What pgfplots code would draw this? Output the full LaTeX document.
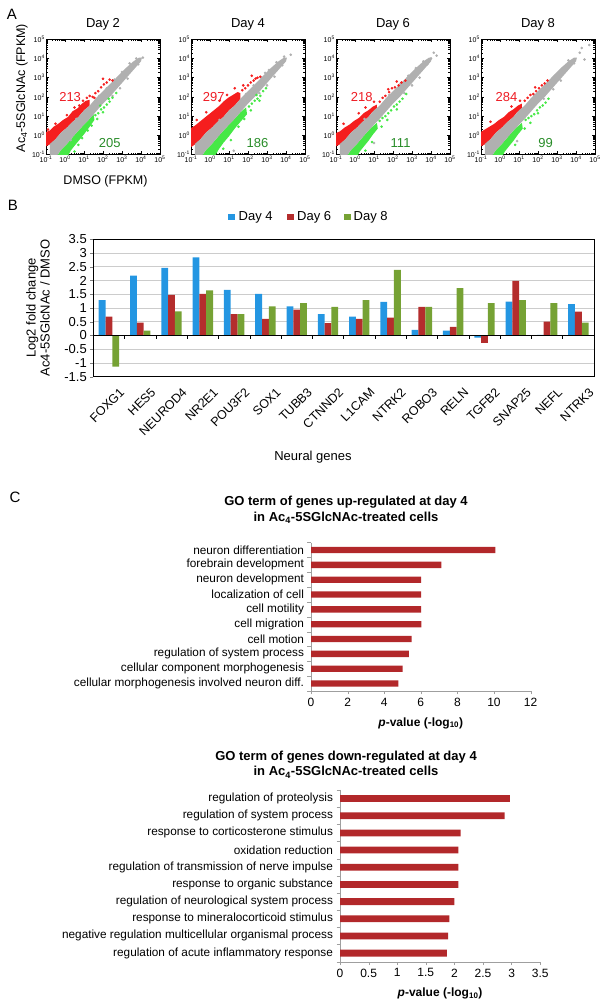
\documentclass[border=0pt]{standalone}
\usepackage{fontspec}
\setmainfont{Liberation Sans}
\usepackage{pgfplots}
\usepackage{pgfplotstable}
\pgfplotsset{compat=1.18}

\definecolor{ptgrey}{RGB}{176,176,176}
\definecolor{ptred}{RGB}{245,30,30}
\definecolor{ptgreen}{RGB}{70,232,70}
\definecolor{numred}{RGB}{238,28,36}
\definecolor{numgreen}{RGB}{40,140,40}
\definecolor{cblue}{RGB}{36,150,226}
\definecolor{cred}{RGB}{180,45,45}
\definecolor{cgreen}{RGB}{118,162,52}
\definecolor{cbar}{RGB}{178,40,42}

\newcommand\fs[2]{\fontsize{#1}{#2}\selectfont}

\pgfplotsset{
  every axis/.append style={/pgf/number format/assume math mode=true},
  scat/.style={
    scale only axis, width=114pt, height=115.2pt,
    xmin=-1, xmax=5, ymin=-1, ymax=5,
    xtick={-1,0,1,2,3,4,5}, ytick={-1,0,1,2,3,4,5},
    xticklabels={10\textsuperscript{-1},10\textsuperscript{0},10\textsuperscript{1},10\textsuperscript{2},10\textsuperscript{3},10\textsuperscript{4},10\textsuperscript{5}},
    yticklabels={10\textsuperscript{-1},10\textsuperscript{0},10\textsuperscript{1},10\textsuperscript{2},10\textsuperscript{3},10\textsuperscript{4},10\textsuperscript{5}},
    minor xtick={-0.699,-0.523,-0.398,-0.301,-0.222,-0.155,-0.097,-0.046,
      0.301,0.477,0.602,0.699,0.778,0.845,0.903,0.954,
      1.301,1.477,1.602,1.699,1.778,1.845,1.903,1.954,
      2.301,2.477,2.602,2.699,2.778,2.845,2.903,2.954,
      3.301,3.477,3.602,3.699,3.778,3.845,3.903,3.954,
      4.301,4.477,4.602,4.699,4.778,4.845,4.903,4.954},
    minor ytick={-0.699,-0.523,-0.398,-0.301,-0.222,-0.155,-0.097,-0.046,
      0.301,0.477,0.602,0.699,0.778,0.845,0.903,0.954,
      1.301,1.477,1.602,1.699,1.778,1.845,1.903,1.954,
      2.301,2.477,2.602,2.699,2.778,2.845,2.903,2.954,
      3.301,3.477,3.602,3.699,3.778,3.845,3.903,3.954,
      4.301,4.477,4.602,4.699,4.778,4.845,4.903,4.954},
    tick align=inside, major tick length=3pt, minor tick length=1.6pt,
    tick style={black, line width=0.4pt},
    axis line style={line width=0.6pt},
    tick label style={font=\fs{7}{8}, inner sep=1pt},
    title style={font=\fs{13}{15}},
  },
  band/.style={draw=none, mark=none},
  dots/.style={only marks, mark=*, mark size=1.1pt},
  gostyle/.style={
    scale only axis, xbar, y dir=reverse,
    ymin=-0.5, ymax=9.5, ytick={0,1,2,3,4,5,6,7,8,9}, xmin=0,
    axis x line*=bottom, axis y line*=left,
    axis line style={draw=gray!75, -},
    tick align=outside,
    major y tick style={draw=none},
    minor ytick={-0.5,0.5,1.5,2.5,3.5,4.5,5.5,6.5,7.5,8.5,9.5},
    minor y tick style={gray!75},
    major x tick style={gray!75},
    major tick length=3.5pt, minor tick length=3.5pt,
    yticklabel style={font=\fs{11.8}{13}},
    xticklabel style={font=\fs{12}{14}},
    xlabel style={font=\bfseries\fs{12}{14}, at={(axis description cs:0.5,0)}, anchor=center, yshift=-32pt},
  },
}

% grey main band (log10 units), shared by all four days
\pgfplotstableread{
x y
-0.8 -0.45
-0.5 -0.2
-0.2 0.15
0.1 0.4
0.4 0.7
0.7 0.95
1.0 1.3
1.3 1.55
1.6 1.9
2.0 2.3
2.4 2.7
2.8 3.1
3.2 3.5
3.6 3.85
3.9 4.05
4.05 4.05
4.0 3.85
3.6 3.4
3.2 2.95
2.8 2.5
2.4 2.05
2.0 1.65
1.6 1.2
1.2 0.75
0.8 0.35
0.4 -0.1
0.1 -0.45
-0.2 -0.75
-0.45 -1.1
-0.8 -1.1
}\greyband

\pgfplotstableread{
x y
-1.05 0.15
-0.8 0.25
-0.6 0.45
-0.35 0.6
-0.1 0.8
0.15 0.95
0.4 1.25
0.65 1.4
0.9 1.65
1.1 1.8
1.3 1.85
1.3 1.55
1.0 1.3
0.7 0.95
0.4 0.7
0.1 0.4
-0.2 0.15
-0.5 -0.2
-0.75 -0.45
-1.05 -0.6
}\redA

\pgfplotstableread{
x y
-0.45 -1.1
-0.2 -0.75
0.1 -0.45
0.4 -0.1
0.8 0.35
1.2 0.75
1.5 1.1
1.55 0.8
1.3 0.45
1.0 0.05
0.75 -0.25
0.5 -0.55
0.3 -0.8
0.15 -1.1
}\greenA

\pgfplotstableread{
x y
-1.05 0.35
-0.8 0.5
-0.55 0.7
-0.3 0.9
-0.05 1.1
0.2 1.3
0.45 1.5
0.7 1.75
0.95 1.95
1.2 2.1
1.45 2.25
1.6 2.2
1.6 1.9
1.3 1.55
1.0 1.3
0.7 0.95
0.4 0.7
0.1 0.4
-0.2 0.15
-0.5 -0.2
-0.75 -0.45
-1.05 -0.65
}\redB

\pgfplotstableread{
x y
-0.45 -1.1
-0.2 -0.75
0.1 -0.45
0.4 -0.1
0.8 0.35
1.2 0.75
1.6 1.2
1.9 1.45
1.95 1.1
1.6 0.7
1.3 0.35
1.0 -0.05
0.7 -0.4
0.45 -0.75
0.25 -1.1
}\greenB

\pgfplotstableread{
x y
-1.05 0.1
-0.8 0.2
-0.55 0.4
-0.3 0.55
-0.05 0.75
0.2 0.9
0.45 1.15
0.7 1.3
0.95 1.5
1.15 1.6
1.15 1.4
0.9 1.2
0.7 0.95
0.4 0.7
0.1 0.4
-0.2 0.15
-0.5 -0.2
-0.75 -0.45
-1.05 -0.6
}\redC

\pgfplotstableread{
x y
-0.45 -1.1
-0.2 -0.75
0.1 -0.45
0.4 -0.1
0.8 0.35
1.15 0.65
1.2 0.35
0.95 0.05
0.7 -0.3
0.45 -0.6
0.25 -0.85
0.12 -1.1
}\greenC

\pgfplotstableread{
x y
-1.05 0.15
-0.8 0.3
-0.55 0.45
-0.3 0.6
-0.05 0.8
0.2 0.95
0.45 1.2
0.7 1.35
0.95 1.55
1.15 1.65
1.15 1.4
0.9 1.2
0.7 0.95
0.4 0.7
0.1 0.4
-0.2 0.15
-0.5 -0.2
-0.75 -0.45
-1.05 -0.6
}\redD

\begin{document}
\begin{tikzpicture}
\useasboundingbox (0pt,0pt) rectangle (606pt,1007pt);

% ---------------- panel A ----------------
\node[font=\fs{15}{17}] at (12pt,993pt) {A};
\node[rotate=90, font=\fs{12.5}{15}] at (22pt,919pt) {Ac\textsubscript{4}-5SGlcNAc (FPKM)};
\node[font=\fs{12.5}{15}] at (105.5pt,825.3pt) {DMSO (FPKM)};

\begin{axis}[scat, at={(46pt,852.5pt)}, anchor=south west, title={Day 2}]
\addplot[band, fill=ptred] table {\redA};
\addplot[band, fill=ptgreen] table {\greenA};
\addplot[band, fill=ptgrey] table {\greyband};
\addplot[dots, ptgrey] coordinates {(4.1,4.05) (3.75,4.0) (3.4,3.75) (3.0,3.3) (2.6,2.9) (2.2,2.45) (3.3,2.95) (2.9,2.45) (2.5,2.05) (1.8,2.05) (1.4,1.05) (0.6,0.85) (0.3,-0.25) (-0.5,-0.95) (3.85,3.7) (2.7,2.75)};
\addplot[dots, ptred] coordinates {(1.45,2.0) (1.6,2.2) (1.75,2.3) (1.9,2.5) (2.05,2.65) (2.2,2.75) (2.35,2.9) (2.0,2.95) (1.3,2.05) (0.95,1.8) (0.5,1.45) (0.1,1.05) (-0.5,0.6) (-0.9,0.3) (2.5,2.85) (1.15,1.95) (1.55,1.95) (0.75,1.55)};
\addplot[dots, ptgreen] coordinates {(1.6,1.05) (1.75,1.15) (1.9,1.35) (2.05,1.45) (2.2,1.6) (2.35,1.75) (2.5,1.95) (2.7,2.2) (1.7,0.85) (2.0,1.2) (1.4,0.5) (1.2,0.25) (0.7,-0.5) (0.5,-0.85) (1.85,1.55) (2.3,1.9) (0.9,-0.15)};
\node[text=numred, font=\fs{13}{15}] at (axis cs:0.27,2.0) {213};
\node[text=numgreen, font=\fs{13}{15}] at (axis cs:2.35,-0.4) {205};
\end{axis}

\begin{axis}[scat, at={(191pt,852.5pt)}, anchor=south west, title={Day 4}]
\addplot[band, fill=ptred] table {\redB};
\addplot[band, fill=ptgreen] table {\greenB};
\addplot[band, fill=ptgrey] table {\greyband};
\addplot[dots, ptgrey] coordinates {(4.25,4.2) (3.9,4.1) (3.5,3.8) (3.1,3.4) (2.7,3.0) (2.3,2.6) (3.4,3.05) (3.0,2.6) (2.6,2.2) (1.9,2.15) (1.25,-0.8) (0.5,0.8) (3.8,3.65) (2.9,3.25)};
\addplot[dots, ptred] coordinates {(1.7,2.35) (1.85,2.45) (2.0,2.6) (2.15,2.75) (2.3,2.85) (2.5,3.0) (2.65,3.05) (2.2,3.1) (1.75,2.6) (1.3,2.45) (0.9,2.1) (0.5,1.8) (-0.2,1.2) (-0.7,0.8) (2.4,2.95)};
\addplot[dots, ptgreen] coordinates {(2.05,1.5) (2.2,1.65) (2.35,1.8) (2.5,1.9) (2.65,2.05) (2.8,2.3) (2.95,2.45) (2.15,1.3) (1.8,0.85) (1.5,0.45) (1.1,-0.25) (0.7,-0.7) (2.45,2.1) (2.6,1.8)};
\node[text=numred, font=\fs{13}{15}] at (axis cs:0.2,2.0) {297};
\node[text=numgreen, font=\fs{13}{15}] at (axis cs:2.5,-0.4) {186};
\end{axis}

\begin{axis}[scat, at={(336pt,852.5pt)}, anchor=south west, title={Day 6}]
\addplot[band, fill=ptred] table {\redC};
\addplot[band, fill=ptgreen] table {\greenC};
\addplot[band, fill=ptgrey] table {\greyband};
\addplot[dots, ptgrey] coordinates {(4.3,4.15) (4.0,4.0) (3.6,3.85) (3.2,3.5) (2.8,3.1) (2.4,2.7) (3.4,3.0) (3.0,2.6) (2.6,2.2) (1.8,2.1) (1.0,-0.4) (0.5,0.85) (3.8,3.7) (4.15,4.3)};
\addplot[dots, ptred] coordinates {(1.3,1.75) (1.45,1.95) (1.6,2.05) (1.8,2.25) (1.95,2.45) (2.1,2.5) (2.3,2.6) (2.45,2.75) (2.65,2.85) (2.2,2.8) (1.0,1.75) (0.55,1.45) (0.2,1.15) (-0.6,0.6) (1.75,2.4)};
\addplot[dots, ptgreen] coordinates {(1.3,0.75) (1.45,0.9) (1.6,1.0) (1.75,1.15) (1.9,1.3) (2.05,1.5) (2.2,1.6) (2.35,1.75) (2.5,1.9) (2.7,2.15) (1.4,0.45) (1.7,0.8) (0.9,-0.35) (0.55,-0.8) (2.2,1.35)};
\node[text=numred, font=\fs{13}{15}] at (axis cs:0.35,2.0) {218};
\node[text=numgreen, font=\fs{13}{15}] at (axis cs:2.4,-0.4) {111};
\end{axis}

\begin{axis}[scat, at={(481pt,852.5pt)}, anchor=south west, title={Day 8}]
\addplot[band, fill=ptred] table {\redD};
\addplot[band, fill=ptgreen] table {\greenC};
\addplot[band, fill=ptgrey] table {\greyband};
\addplot[dots, ptgrey] coordinates {(4.7,4.7) (4.45,3.95) (4.2,4.3) (3.9,3.75) (3.6,3.9) (3.3,3.5) (2.9,3.1) (2.5,2.7) (3.2,2.85) (2.8,2.4) (2.3,1.9) (1.8,2.1) (4.3,4.55) (0.9,-0.3)};
\addplot[dots, ptred] coordinates {(1.3,1.8) (1.45,1.95) (1.6,2.1) (1.75,2.15) (1.9,2.3) (2.05,2.45) (2.2,2.6) (2.35,2.7) (2.5,2.85) (1.05,1.8) (0.6,1.5) (-0.5,0.7) (1.85,2.5)};
\addplot[dots, ptgreen] coordinates {(1.35,0.8) (1.5,0.9) (1.65,1.0) (1.8,1.1) (1.95,1.3) (2.1,1.45) (2.25,1.55) (2.4,1.7) (2.55,1.9) (1.3,0.35) (1.6,0.65) (0.8,-0.5) (2.0,1.15)};
\node[text=numred, font=\fs{13}{15}] at (axis cs:0.34,2.0) {284};
\node[text=numgreen, font=\fs{13}{15}] at (axis cs:2.4,-0.4) {99};
\end{axis}

% ---------------- panel B ----------------
\node[font=\fs{15}{17}] at (13pt,802pt) {B};
\fill[cblue] (228pt,786.75pt) rectangle (234.5pt,793.25pt);
\node[anchor=west, inner sep=0pt, font=\fs{13}{15}] at (238.5pt,790pt) {Day 4};
\fill[cred] (287pt,786.75pt) rectangle (293.5pt,793.25pt);
\node[anchor=west, inner sep=0pt, font=\fs{13}{15}] at (297pt,790pt) {Day 6};
\fill[cgreen] (344pt,786.75pt) rectangle (350.5pt,793.25pt);
\node[anchor=west, inner sep=0pt, font=\fs{13}{15}] at (353.5pt,790pt) {Day 8};
\node[rotate=90, align=center, font=\fs{13}{14}] at (38pt,699pt) {Log2 fold change\\Ac4-5SGlcNAc / DMSO};
\node[font=\fs{13}{15}] at (313pt,550pt) {Neural genes};

\begin{axis}[at={(93.3pt,630.3pt)}, anchor=south west, scale only axis,
  width=500.7pt, height=137.4pt,
  ybar=0pt, bar width=6.8pt,
  xmin=-0.5, xmax=15.5, ymin=-1.5, ymax=3.5,
  xtick={0,1,2,3,4,5,6,7,8,9,10,11,12,13,14,15},
  xticklabels={FOXG1,HES5,NEUROD4,NR2E1,POU3F2,SOX1,TUBB3,CTNND2,L1CAM,NTRK2,ROBO3,RELN,TGFB2,SNAP25,NEFL,NTRK3},
  xticklabel style={rotate=45, anchor=north east, font=\fs{12.5}{14}, inner sep=0pt, yshift=-12pt, xshift=2pt},
  xtick style={draw=none},
  ytick={-1.5,-1,-0.5,0,0.5,1,1.5,2,2.5,3,3.5},
  yticklabels={-1.5,-1,-0.5,0,0.5,1,1.5,2,2.5,3,3.5},
  yticklabel style={font=\fs{13}{15}},
  ytick pos=left, tick align=outside, major tick length=3pt,
  ymajorgrids, grid style={gray!40, line width=0.6pt},
  axis line style={line width=0.8pt},
]
\addplot[fill=cblue, draw=none] coordinates {(0,1.29) (1,2.18) (2,2.46) (3,2.84) (4,1.66) (5,1.51) (6,1.06) (7,0.78) (8,0.69) (9,1.22) (10,0.20) (11,0.18) (12,-0.08) (13,1.23) (14,0.02) (15,1.14)};
\addplot[fill=cred, draw=none] coordinates {(0,0.69) (1,0.47) (2,1.48) (3,1.51) (4,0.78) (5,0.60) (6,0.94) (7,0.45) (8,0.60) (9,0.65) (10,1.04) (11,0.31) (12,-0.27) (13,1.99) (14,0.50) (15,0.87)};
\addplot[fill=cgreen, draw=none] coordinates {(0,-1.13) (1,0.18) (2,0.88) (3,1.64) (4,0.78) (5,1.06) (6,1.18) (7,1.04) (8,1.29) (9,2.39) (10,1.04) (11,1.72) (12,1.18) (13,1.29) (14,1.18) (15,0.47)};
\draw[black, line width=0.7pt] (axis cs:-0.5,0) -- (axis cs:15.5,0);
\pgfplotsinvokeforeach{0.5,1.5,2.5,3.5,4.5,5.5,6.5,7.5,8.5,9.5,10.5,11.5,12.5,13.5,14.5}{
  \draw[black, line width=0.5pt] (axis cs:#1,0) -- ++(0pt,-3.5pt);
}
\end{axis}

% ---------------- panel C ----------------
\node[font=\fs{15}{17}] at (15pt,510pt) {C};
\node[align=center, font=\bfseries\fs{13}{15.5}] at (346pt,497pt) {GO term of genes up-regulated at day 4\\in Ac\textsubscript{4}-5SGlcNAc-treated cells};

\begin{axis}[gostyle, at={(311pt,316pt)}, anchor=south west,
  width=219.6pt, height=148.4pt, bar width=6.3pt,
  xmax=12, xtick={0,2,4,6,8,10,12},
  yticklabels={neuron differentiation,forebrain development,neuron development,localization of cell,cell motility,cell migration,cell motion,regulation of system process,cellular component morphogenesis,cellular morphogenesis involved neuron diff.},
  xlabel={\textit{p}-value (-log\textsubscript{10})},
]
\addplot[fill=cbar, draw=none] coordinates {(10.07,0) (7.13,1) (6.02,2) (6.02,3) (6.02,4) (6.03,5) (5.50,6) (5.35,7) (5.01,8) (4.77,9)};
\end{axis}

\node[align=center, font=\bfseries\fs{13}{15.5}] at (346pt,242.5pt) {GO term of genes down-regulated at day 4\\in Ac\textsubscript{4}-5SGlcNAc-treated cells};

\begin{axis}[gostyle, at={(340pt,45.3pt)}, anchor=south west,
  width=200.2pt, height=171.7pt, bar width=6.8pt,
  xmax=3.5, xtick={0,0.5,1,1.5,2,2.5,3,3.5},
  yticklabels={regulation of proteolysis,regulation of system process,response to corticosterone stimulus,oxidation reduction,regulation of transmission of nerve impulse,response to organic substance,regulation of neurological system process,response to mineralocorticoid stimulus,negative regulation multicellular organismal process,regulation of acute inflammatory response},
  xlabel={\textit{p}-value (-log\textsubscript{10})},
]
\addplot[fill=cbar, draw=none] coordinates {(2.97,0) (2.88,1) (2.11,2) (2.07,3) (2.07,4) (2.07,5) (2.00,6) (1.91,7) (1.89,8) (1.87,9)};
\end{axis}
\end{tikzpicture}
\end{document}
